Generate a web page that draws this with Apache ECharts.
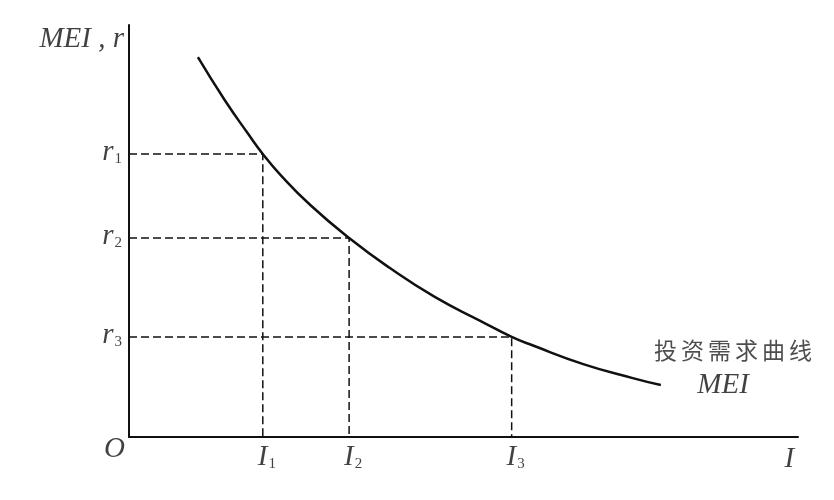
<!DOCTYPE html>
<html>
<head>
<meta charset="utf-8">
<script src="https://cdn.jsdelivr.net/npm/echarts@6/dist/echarts.min.js"></script>
<style>
  html, body { margin: 0; padding: 0; background: #fff; }
  #main { width: 834px; height: 500px; }
</style>
</head>
<body>
<div id="main"></div>
<script>
// MEI 曲线上读出来的点 (I, r)
var curveI = [1.03, 1.43, 1.78, 2.00, 2.26, 2.71, 3.29, 3.90, 4.57, 5.25, 5.72, 6.04, 6.79, 7.53, 7.95];
var curveR = [9.22, 8.18, 7.36, 6.87, 6.37, 5.63, 4.83, 4.10, 3.40, 2.82, 2.43, 2.22, 1.77, 1.43, 1.26];

// 三组对应的 I 和 r
var levelNames = ["1", "2", "3"];
var levelI = [2.00, 3.29, 5.72];
var levelR = [6.87, 4.83, 2.43];

var serif = "'Liberation Serif', 'DejaVu Serif', serif";
var cjk = "'Noto Sans CJK SC', sans-serif";

var chart = echarts.init(document.getElementById("main"));

var curveData = [];
for (var i = 0; i < curveI.length; i++) {
  curveData.push([curveI[i], curveR[i]]);
}

// 虚线
var dashSeries = [];
for (var k = 0; k < levelI.length; k++) {
  dashSeries.push({
    type: "line",
    silent: true,
    symbol: "none",
    data: [[0, levelR[k]], [levelI[k], levelR[k]], [levelI[k], 0]],
    lineStyle: { color: "#111", width: 1.5, type: [8, 4] },
    z: 2
  });
}

var subRich = {
  m: { fontFamily: serif, fontStyle: "italic", fontSize: 29, color: "#111" },
  s: { fontFamily: serif, fontSize: 15, color: "#111", padding: [14, 0, 0, 1] }
};

var yTicks = [], xTicks = [];
for (var j = 0; j < levelNames.length; j++) {
  yTicks.push({ value: [0, levelR[j]], name: levelNames[j] });
  xTicks.push({ value: [levelI[j], 0], name: levelNames[j] });
}

var option = {
  backgroundColor: "#fff",
  animation: false,
  grid: { left: 129, right: 36, top: 25, bottom: 63 },
  xAxis: {
    type: "value",
    min: 0,
    max: 10,
    axisLine: { onZero: true, lineStyle: { color: "#111", width: 2 } },
    axisTick: { show: false },
    axisLabel: { show: false },
    splitLine: { show: false }
  },
  yAxis: {
    type: "value",
    min: 0,
    max: 10,
    axisLine: { show: true, onZero: true, lineStyle: { color: "#111", width: 2 } },
    axisTick: { show: false },
    axisLabel: { show: false },
    splitLine: { show: false }
  },
  series: dashSeries.concat([
    {
      name: "MEI",
      type: "line",
      smooth: 0.5,
      symbol: "none",
      data: curveData,
      lineStyle: { color: "#111", width: 2.5 },
      z: 5
    },
    {
      // r1 r2 r3
      type: "scatter",
      symbolSize: 0,
      data: yTicks,
      label: {
        show: true,
        position: "left",
        distance: 7,
        offset: [0, -2],
        formatter: function (p) { return "{m|r}{s|" + p.name + "}"; },
        rich: subRich
      }
    },
    {
      // I1 I2 I3
      type: "scatter",
      symbolSize: 0,
      data: xTicks,
      label: {
        show: true,
        position: "bottom",
        distance: 6,
        offset: [4, 0],
        formatter: function (p) { return "{m|I}{s|" + p.name + "}"; },
        rich: subRich
      }
    },
    {
      // 轴名与曲线名
      type: "scatter",
      symbolSize: 0,
      data: [
        { value: [0, 9.64], label: { position: "left", distance: 5, formatter: "{m|MEI , r}" } },
        { value: [0, 0], label: { position: "left", distance: 4, offset: [0, 12], formatter: "{m|O}" } },
        { value: [9.87, 0], label: { position: "bottom", distance: 8, formatter: "{m|I}" } },
        { value: [9.03, 2.11], label: { position: "inside", formatter: "{c|投}{c|资}{c|需}{c|求}{c|曲}{c|线}" } },
        { value: [8.88, 1.26], label: { position: "inside", formatter: "{m|MEI}" } }
      ],
      label: {
        show: true,
        rich: {
          m: { fontFamily: serif, fontStyle: "italic", fontSize: 29, color: "#111" },
          c: { fontFamily: cjk, fontSize: 23, color: "#222", padding: [0, 2, 0, 2] }
        }
      }
    }
  ])
};

chart.setOption(option);
</script>
</body>
</html>
